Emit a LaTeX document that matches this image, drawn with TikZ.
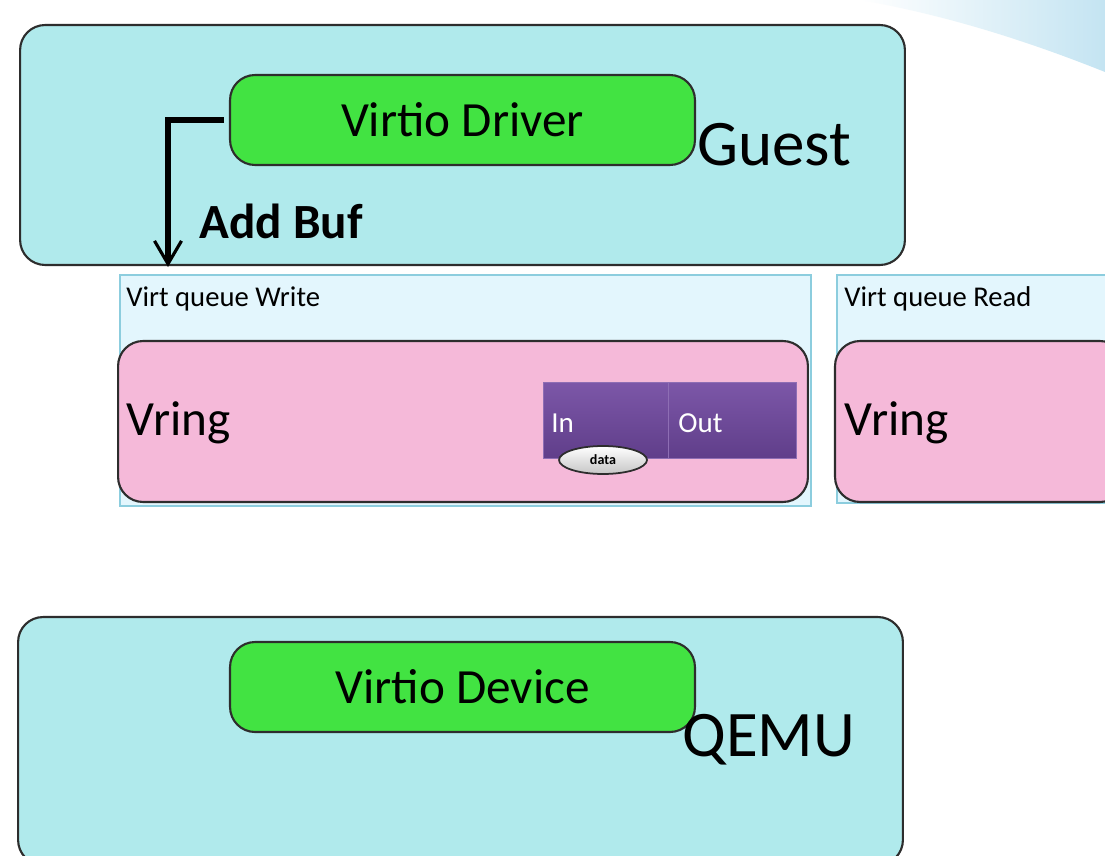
\documentclass[tikz,border=0pt]{standalone}
\usepackage{fontspec}
\setmainfont{Carlito}
\usetikzlibrary{positioning,arrows.meta,shapes.geometric}

\definecolor{guestcyan}{RGB}{176,234,236}
\definecolor{drvgreen}{RGB}{66,227,66}
\definecolor{vringpink}{RGB}{245,185,217}
\definecolor{queuebg}{RGB}{227,246,253}
\definecolor{queueline}{RGB}{140,205,222}
\definecolor{edgegray}{RGB}{45,45,45}
\definecolor{purpletop}{RGB}{124,87,168}
\definecolor{purplebot}{RGB}{96,62,138}
\definecolor{purpleline}{RGB}{142,110,180}
\definecolor{swoosh}{RGB}{196,228,242}

\begin{document}
\begin{tikzpicture}[
  x=0.02cm, y=-0.02cm,
  >={Straight Barb[length=4.6mm,width=5.4mm,line width=1.8pt]},
  hostbox/.style={draw=edgegray, line width=1.2pt, fill=guestcyan, rounded corners=0.5cm,
    minimum width=17.7cm, minimum height=4.8cm, inner sep=0pt},
  virtbox/.style={draw=edgegray, line width=1.2pt, fill=drvgreen, rounded corners=0.5cm,
    minimum width=9.3cm, minimum height=1.8cm, font=\fontsize{28}{32}\selectfont},
  queuebox/.style={draw=queueline, line width=1.1pt, fill=queuebg, inner sep=0pt},
  vringbox/.style={draw=edgegray, line width=1.2pt, fill=vringpink, rounded corners=0.5cm,
    minimum height=3.22cm, inner sep=0pt},
  qcell/.style={draw=purpleline, line width=0.5pt, top color=purpletop, bottom color=purplebot,
    minimum height=1.52cm, inner sep=0pt},
  celltext/.style={text=white, font=\fontsize{16.5}{18}\selectfont, anchor=west, inner sep=0pt},
  bigtext/.style={font=\fontsize{37}{42}\selectfont, anchor=west, inner sep=0pt},
  vringtext/.style={font=\fontsize{28}{32}\selectfont, anchor=west, inner sep=0pt},
  qtitle/.style={font=\fontsize{16.3}{18}\selectfont, anchor=west, inner sep=0pt},
  addbuf/.style={->, line width=3.8pt, draw=black}
]
  \useasboundingbox (0,0) rectangle (1105,855);
  \clip (0,0) rectangle (1105,855);
  \fill[white] (0,0) rectangle (1105,855);
  \shade[left color=white, right color=swoosh] (860,0) -- (1105,0) -- (1105,72)
    .. controls (1020,38) and (940,14) .. (860,0) -- cycle;

  % guest side
  \node[hostbox] (guest) at (462.5,145) {};
  \node[virtbox] (driver) at (462.5,120) {Virtio Driver};
  \node[bigtext] (guestlbl) at (697,145) {Guest};
  \coordinate (bufend) at (168,267);
  \draw[addbuf] ([xshift=-3pt]driver.west) -| (bufend);
  \node[font=\fontsize{28}{32}\selectfont\bfseries, anchor=west, inner sep=0pt] (addlbl) at (199,221) {Add Buf};

  % write queue
  \node[queuebox, minimum width=13.82cm, minimum height=4.62cm] (wqueue) at (465.5,390.5) {};
  \node[qtitle] (wtitle) at (126,299) {Virt queue Write};
  \node[vringbox, minimum width=13.8cm] (wvring) at (463,421.5) {};
  \node[vringtext] (wvringlbl) at (126,423) {Vring};
  \node[qcell, minimum width=2.5cm] (incell) at (605.5,420) {};
  \node[qcell, minimum width=2.56cm] (outcell) at (732,420) {};
  \node[celltext] (intext) at (551,423) {In};
  \node[celltext] (outtext) at (678,423) {Out};
  \node[ellipse, draw=edgegray, line width=1pt, top color=white, bottom color=gray!45,
    minimum width=1.76cm, minimum height=0.56cm, inner sep=0pt,
    font=\fontsize{8}{9}\selectfont\bfseries] (data) at (603,460) {data};

  % read queue
  \node[queuebox, minimum width=6cm, minimum height=4.56cm] (rqueue) at (987,389) {};
  \node[qtitle] (rtitle) at (844,299) {Virt queue Read};
  \node[vringbox, minimum width=5.8cm] (rvring) at (980,421.5) {};
  \node[vringtext] (rvringlbl) at (844,423) {Vring};

  % qemu side
  \node[hostbox, minimum height=4.96cm] (qemu) at (460.5,741) {};
  \node[virtbox] (device) at (462.5,687) {Virtio Device};
  \node[bigtext] (qemulbl) at (682,740) {QEMU};
\end{tikzpicture}
\end{document}
